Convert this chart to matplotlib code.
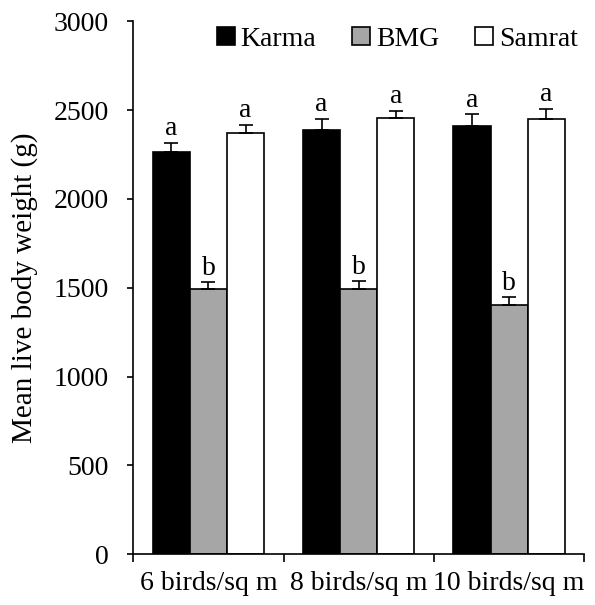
import matplotlib.pyplot as plt
import numpy as np

plt.rcParams['font.family'] = ['Liberation Serif', 'DejaVu Serif']

densities = ['6 birds/sq m', '8 birds/sq m', '10 birds/sq m']
breeds = ['Karma', 'BMG', 'Samrat']
means = {
    'Karma': [2265, 2385, 2410],
    'BMG': [1490, 1495, 1400],
    'Samrat': [2368, 2453, 2448],
}
errors = {
    'Karma': [50, 65, 65],
    'BMG': [40, 40, 45],
    'Samrat': [50, 40, 60],
}
letters = {
    'Karma': ['a', 'a', 'a'],
    'BMG': ['b', 'b', 'b'],
    'Samrat': ['a', 'a', 'a'],
}
colors = {'Karma': 'black', 'BMG': '#a6a6a6', 'Samrat': 'white'}
fs = 20

fig = plt.figure(figsize=(5.95, 6.05), dpi=100)
ax = fig.add_axes([0.224, 0.084, 0.758, 0.881])

x = np.arange(len(densities)) + 0.5
width = 0.247
for i, b in enumerate(breeds):
    pos = x + (i - 1) * width
    ax.bar(pos, means[b], width, color=colors[b], edgecolor='black', linewidth=1.2,
           label=b, zorder=2)
    ax.errorbar(pos, means[b], yerr=[np.zeros(3), errors[b]], fmt='none',
                ecolor='black', elinewidth=1.2, capsize=5, capthick=1.2, zorder=3)
    for p, m, e, t in zip(pos, means[b], errors[b], letters[b]):
        ax.text(p, m + e + 10, t, ha='center', va='bottom', fontsize=fs)

ax.set_xlim(0, 3)
ax.set_ylim(0, 3000)
ax.set_yticks(np.arange(0, 3001, 500))
ax.set_xticks([0, 1, 2, 3])
ax.set_xticklabels([])
ax.set_xticks(x, minor=True)
ax.set_xticklabels(densities, minor=True)
ax.tick_params(axis='x', which='minor', length=0, pad=12, labelsize=fs)
ax.tick_params(axis='x', which='major', length=6, width=1.2, direction='out')
ax.tick_params(axis='y', length=4.5, width=1.2, labelsize=fs, pad=13)
ax.spines['top'].set_visible(False)
ax.spines['right'].set_visible(False)
ax.spines['left'].set_linewidth(1.2)
ax.spines['bottom'].set_linewidth(1.2)
ax.set_ylabel('Mean live body weight (g)', fontsize=21, labelpad=11)

ax.legend(loc='upper right', ncol=3, frameon=False, fontsize=fs,
          handlelength=0.65, handleheight=0.65, handletextpad=0.2,
          columnspacing=1.3, bbox_to_anchor=(1.01, 1.01), borderaxespad=0)

fig.savefig('out.png', dpi=100)
